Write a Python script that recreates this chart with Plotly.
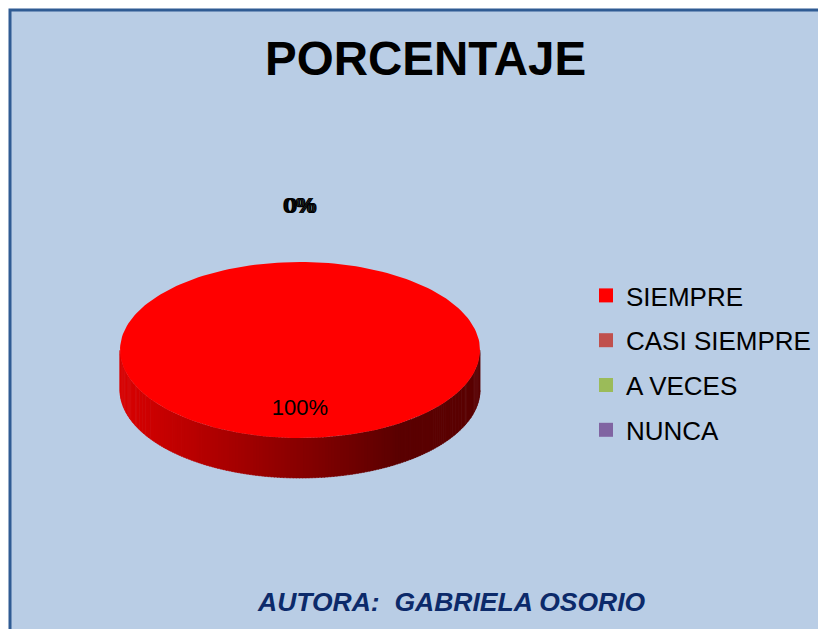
import plotly.graph_objects as go
import numpy as np

# datos
categorias = ["SIEMPRE", "CASI SIEMPRE", "A VECES", "NUNCA"]
porcentajes = [100, 0, 0, 0]
colores = ["#FF0000", "#C0504D", "#9BBB59", "#8064A2"]

titulo = "PORCENTAJE"
autora = "AUTORA:\u00a0 GABRIELA OSORIO"

W, H = 826, 629
OFF = 8  # margen del body del html
# geometria del pastel 3D (pixeles de pantalla)
cx, cy, rx, ry, prof = 300, 350, 180, 88, 40

def punto(theta, r=1.0, dy=0.0):
    t = np.radians(theta)
    return cx + rx * r * np.sin(t), cy - ry * r * np.cos(t) + dy

def mezcla(c1, c2, f):
    a = [int(c1[i:i + 2], 16) for i in (1, 3, 5)]
    b = [int(c2[i:i + 2], 16) for i in (1, 3, 5)]
    return "rgb(%d,%d,%d)" % tuple(round(a[k] + (b[k] - a[k]) * f) for k in range(3))

fig = go.Figure()

total = sum(porcentajes)
inicio = 0.0
angulos = []
for v in porcentajes:
    fin = inicio + 360.0 * v / total
    angulos.append((inicio, fin))
    inicio = fin

# lados (parte frontal) con sombreado
paso = 1.0
for (a0, a1), col in zip(angulos, colores):
    if a1 - a0 <= 0:
        continue
    s0, s1 = max(a0, 90), min(a1, 270)
    if s1 <= s0:
        continue
    for p in np.arange(s0, s1, paso):
        q = min(p + paso * 1.3, s1)
        ts = np.linspace(p, q, 3)
        xs_top, ys_top = punto(ts)
        xs_bot, ys_bot = punto(ts[::-1], dy=prof)
        xs = list(xs_top) + list(xs_bot)
        ys = list(ys_top) + list(ys_bot)
        f = (np.mean(xs_top) - (cx - rx)) / (1.55 * rx)
        c = mezcla("#DA0000", "#5A0000", min(max(f, 0), 1))
        fig.add_trace(go.Scatter(x=xs, y=ys, fill="toself", fillcolor=c, mode="lines",
                                 line=dict(color=c, width=0.5), hoverinfo="skip", showlegend=False))

# caras superiores
for (a0, a1), col in zip(angulos, colores):
    if a1 - a0 <= 0:
        continue
    ts = np.linspace(a0, a1, 200)
    xs, ys = punto(ts)
    fig.add_trace(go.Scatter(x=[cx] + list(xs) + [cx], y=[cy] + list(ys) + [cy], fill="toself",
                             fillcolor=col, mode="lines", line=dict(width=0),
                             hoverinfo="skip", showlegend=False))

# etiquetas de porcentaje
for i, ((a0, a1), v) in enumerate(zip(angulos, porcentajes)):
    medio = (a0 + a1) / 2
    if v >= 10:
        x, y = punto(medio, 0.68)
    else:
        x, y = punto(medio, 1.62)
        x += (i - 2) * 1.5
    fig.add_trace(go.Scatter(x=[x], y=[y], mode="text", text=["%d%%" % v],
                             textfont=dict(family="Liberation Sans", size=22, color="black"),
                             hoverinfo="skip", showlegend=False))

# leyenda
for i, (nombre, col) in enumerate(zip(categorias, colores)):
    fig.add_trace(go.Scatter(x=[None], y=[None], mode="markers", name=nombre,
                             legendgroup=str(i),
                             marker=dict(symbol="square", size=14, color=col)))

fig.add_shape(type="rect", xref="x", yref="y", x0=10, y0=10, x1=W + 40, y1=H + 40,
              fillcolor="#B9CDE5", line=dict(color="#2F5B93", width=3), layer="below")

fig.add_annotation(x=425, y=58, xref="x", yref="y", text="<b>%s</b>" % titulo, showarrow=False,
                   font=dict(family="Liberation Sans", size=47.5, color="black"))
fig.add_annotation(x=451, y=602, xref="x", yref="y", text="<b><i>%s</i></b>" % autora,
                   showarrow=False, font=dict(family="Liberation Sans", size=26.5, color="#0C2A6A"))

fig.update_layout(
    width=W, height=H, margin=dict(l=0, r=0, t=0, b=0),
    paper_bgcolor="white", plot_bgcolor="rgba(0,0,0,0)",
    xaxis=dict(range=[OFF, W + OFF], visible=False, fixedrange=True),
    yaxis=dict(range=[H + OFF, OFF], visible=False, fixedrange=True),
    legend=dict(x=(586 - OFF) / W, y=1 - (272 - OFF) / H, xanchor="left", yanchor="top",
                bgcolor="rgba(0,0,0,0)",
                font=dict(family="Liberation Sans", size=26, color="black"),
                tracegroupgap=8, itemsizing="trace", itemwidth=30),
    showlegend=True,
)

fig.write_html("out.html")
